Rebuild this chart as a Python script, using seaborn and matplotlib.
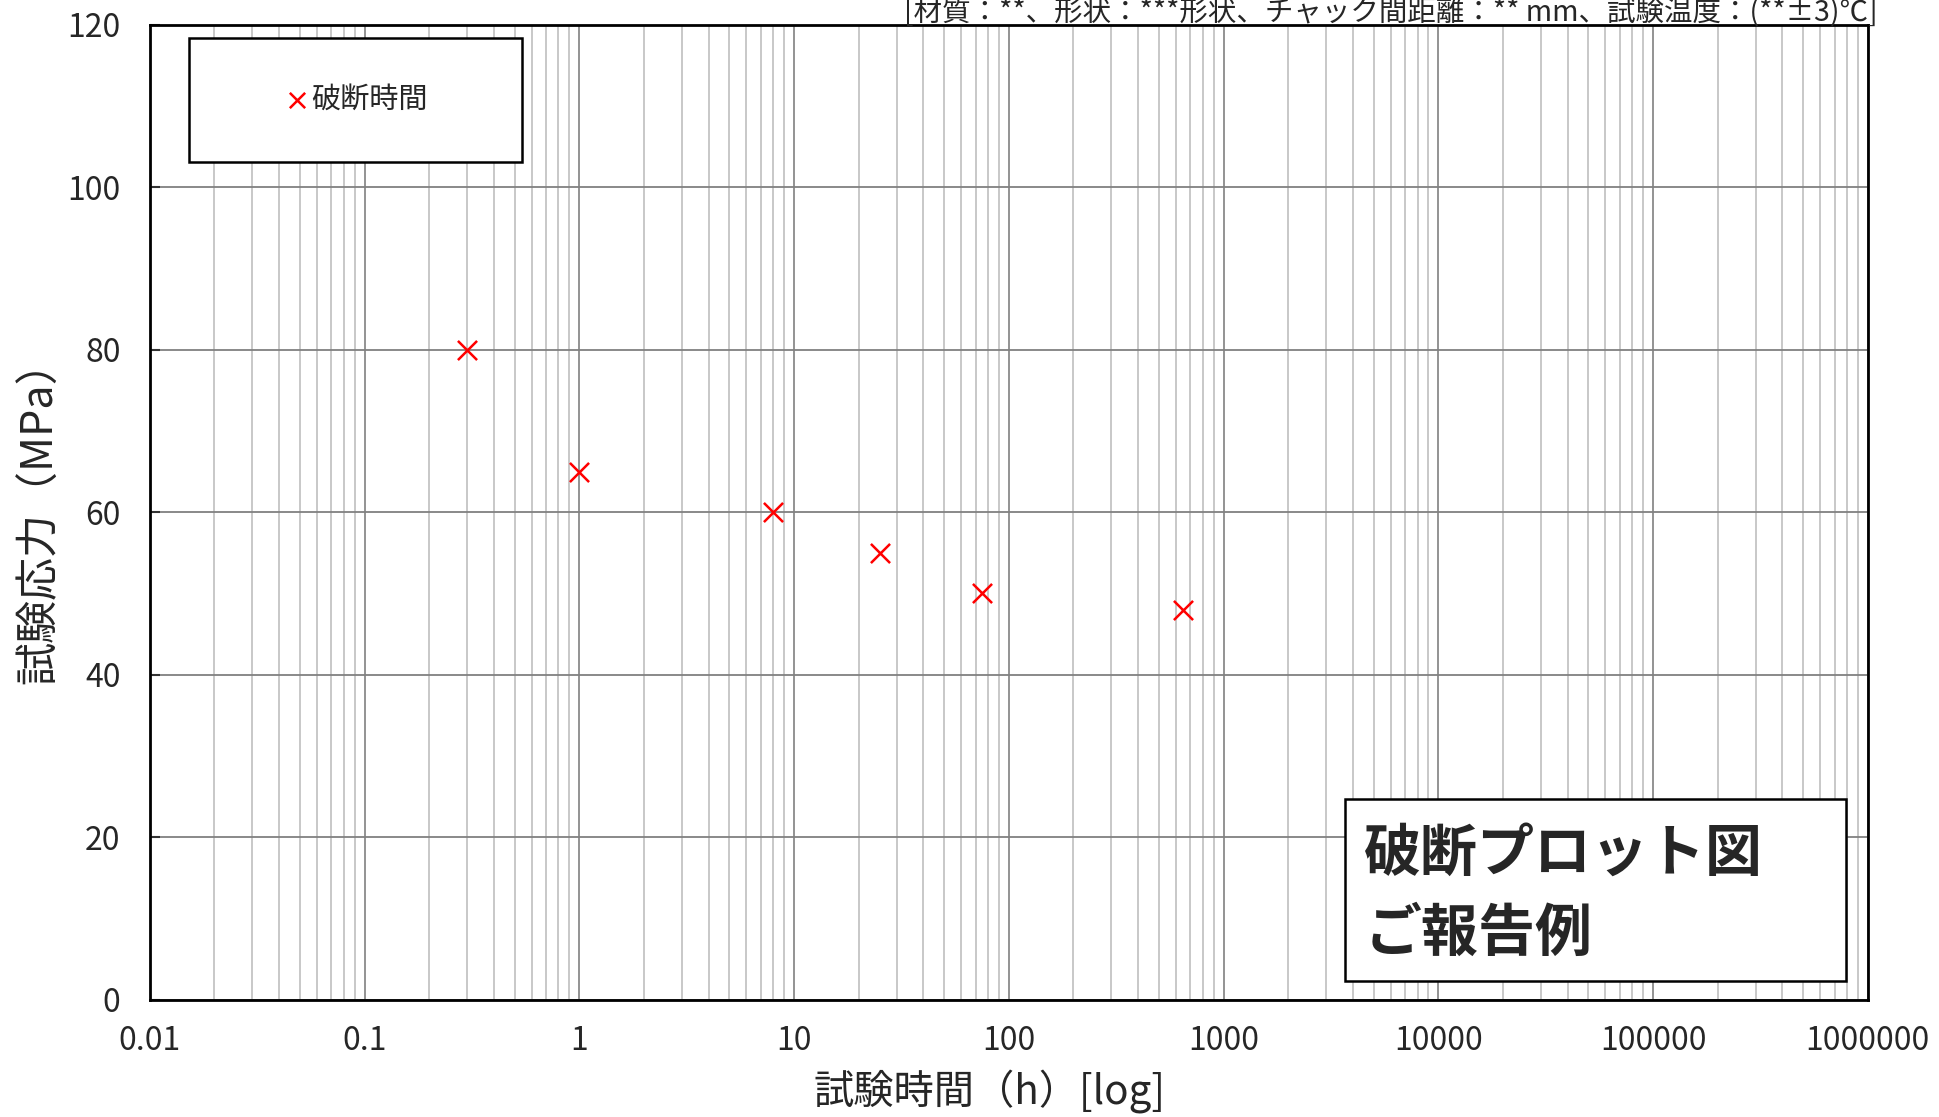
import numpy as np
import pandas as pd
import matplotlib
matplotlib.use('Agg')
import matplotlib.pyplot as plt
from matplotlib.patches import Rectangle
from matplotlib.ticker import FixedLocator, LogLocator, NullFormatter
import seaborn as sns

# 試験データ
test_hours = [0.3, 1, 8, 25, 75, 650]
test_stress = [80, 65, 60, 55, 50, 48]

x_ticks = [0.01, 0.1, 1, 10, 100, 1000, 10000, 100000, 1000000]
x_tick_labels = ['0.01', '0.1', '1', '10', '100', '1000', '10000', '100000', '1000000']
y_ticks = [0, 20, 40, 60, 80, 100, 120]

condition_text = '[材質：**、形状：***形状、チャック間距離：** mm、試験温度：(**±3)℃]'
series_label = '破断時間'
stamp_text = '破断プロット図\nご報告例'

sns.set_theme(style='white')
plt.rcParams['font.family'] = ['Noto Sans CJK JP', 'DejaVu Sans']

df = pd.DataFrame({'hours': test_hours, 'stress': test_stress})

fig = plt.figure(figsize=(19.4, 11.17), dpi=100)
ax = fig.add_axes([0.0772, 0.105, 0.8856, 0.873])

# 補助目盛のグリッド
ax.set_xscale('log')
ax.set_xlim(0.01, 1000000)
ax.set_ylim(0, 120)
ax.xaxis.set_major_locator(FixedLocator(x_ticks))
ax.set_xticklabels(x_tick_labels)
ax.xaxis.set_minor_locator(LogLocator(base=10, subs=np.arange(2, 10), numticks=100))
ax.xaxis.set_minor_formatter(NullFormatter())
ax.set_yticks(y_ticks)

ax.grid(True, which='minor', axis='x', color='#c4c4c4', linewidth=1.3)
ax.grid(True, which='major', axis='x', color='#8a8a8a', linewidth=1.3)
ax.grid(True, which='major', axis='y', color='#808080', linewidth=1.3)
ax.set_axisbelow(True)

sns.scatterplot(data=df, x='hours', y='stress', marker='x', color='red',
                s=190, linewidth=1.8, label=series_label, ax=ax, zorder=5)

for sp in ax.spines.values():
    sp.set_color('black')
    sp.set_linewidth(2.0)

ax.tick_params(axis='y', which='major', direction='in', length=7, width=1.5,
               color='#333333', left=True, labelsize=23, pad=21)
ax.tick_params(axis='x', which='both', length=0, labelsize=23, pad=18)

ax.set_xlabel('試験時間（h）[log]', fontsize=29)
ax.xaxis.set_label_coords(0.489, -0.071)
ax.set_ylabel('試験応力（MPa）', fontsize=31, labelpad=4)

# 凡例（枠は手で描く）
ax.legend_.remove()
ax.add_patch(Rectangle((0.0227, 0.8595), 0.1938, 0.1272, transform=ax.transAxes,
                       facecolor='white', edgecolor='black', linewidth=1.8, zorder=6))
leg = ax.legend(loc='center', bbox_to_anchor=(0.1196, 0.923), frameon=False,
                fontsize=21, handletextpad=0.0, handlelength=1.0, markerscale=0.8)
leg.set_zorder(7)

# 注記ボックス
ax.add_patch(Rectangle((0.6956, 0.0195), 0.2916, 0.1867, transform=ax.transAxes,
                       facecolor='white', edgecolor='black', linewidth=1.8, zorder=6))
ax.text(0.707, 0.109, stamp_text, transform=ax.transAxes, fontsize=41,
        fontweight='bold', va='center', ha='left', linespacing=1.48, zorder=7)

# 試験条件
fig.text(0.968, 0.9885, condition_text, ha='right', va='center', fontsize=20.5)

fig.savefig('out.png', dpi=100)
